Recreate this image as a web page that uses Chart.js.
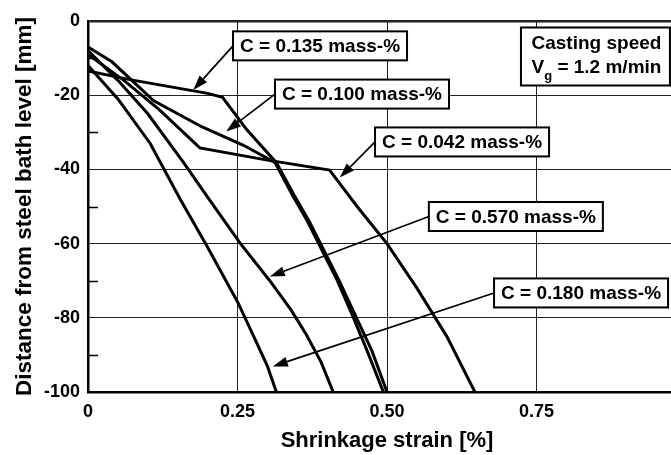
<!DOCTYPE html>
<html>
<head>
<meta charset="utf-8">
<script src="https://cdn.jsdelivr.net/npm/chart.js@4.4.0/dist/chart.umd.min.js"></script>
<style>
  html, body { margin: 0; padding: 0; background: #fff; overflow: hidden; width: 671px; height: 455px; }
</style>
</head>
<body>
<canvas id="chart" width="700" height="455"></canvas>
<script>
// values
const xTickLabels = ['0', '0.25', '0.50', '0.75', ''];
const yTickLabels = ['-100', '-80', '-60', '-40', '-20', '0'];
const yMinorTicks = [-10, -30, -50, -70, -90];

const c135X = [0, 0.07, 0.2, 0.225, 0.265, 0.315, 0.345, 0.37, 0.395, 0.42, 0.449, 0.475, 0.50];
const c135Y = [-13.5, -15.8, -19.5, -20.6, -29.2, -38.2, -47, -54, -62, -70, -80, -89, -100];

const c100X = [0, 0.04, 0.08, 0.11, 0.19, 0.26, 0.313, 0.342, 0.367, 0.392, 0.417, 0.444, 0.467, 0.494];
const c100Y = [-7, -11, -17, -21.5, -28.5, -33.5, -38.2, -47, -54, -62, -70, -80, -89, -100];

const c042X = [0, 0.06, 0.12, 0.187, 0.30, 0.404, 0.45, 0.5, 0.55, 0.6, 0.647];
const c042Y = [-9, -16, -24, -34.2, -37.5, -40.2, -50, -60, -72, -85, -100];

const c570X = [0, 0.05, 0.1, 0.159, 0.2, 0.254, 0.304, 0.34, 0.365, 0.39, 0.41];
const c570Y = [-8, -16, -25, -38, -47.5, -59.8, -70, -78, -84.5, -92, -100];

const c180X = [0, 0.05, 0.104, 0.154, 0.2, 0.251, 0.28, 0.3, 0.315];
const c180Y = [-12, -21, -33, -48, -61, -76, -86, -93, -100];

const labelTexts = ['C = 0.135 mass-%', 'C = 0.100 mass-%', 'C = 0.042 mass-%', 'C = 0.570 mass-%', 'C = 0.180 mass-%'];

// where the callouts sit (data units)
const callouts = [
  { left: 0.2425, mid: -6.7,  tipX: 0.176, tipY: -18.6 },
  { left: 0.3127, mid: -19.7, tipX: 0.231, tipY: -29.8 },
  { left: 0.480,  mid: -32.6, tipX: 0.421, tipY: -42.2 },
  { left: 0.570,  mid: -52.7, tipX: 0.304, tipY: -68.9 },
  { left: 0.679,  mid: -73.3, tipX: 0.309, tipY: -93.1 }
];
const speedBox = { left: 0.724, top: -1.75 };

const FONT = '"Liberation Sans", Arial, Helvetica, sans-serif';

function series(xs, ys) {
  return xs.map((x, i) => ({ x: x, y: ys[i] }));
}

function lineSet(xs, ys) {
  return {
    data: series(xs, ys),
    borderColor: '#000',
    borderWidth: 3,
    pointRadius: 0,
    tension: 0,
    fill: false
  };
}

function arrow(ctx, x0, y0, x1, y1) {
  const ang = Math.atan2(y1 - y0, x1 - x0);
  const len = 15, half = 5;
  const bx = x1 - len * Math.cos(ang), by = y1 - len * Math.sin(ang);
  ctx.beginPath();
  ctx.moveTo(x0, y0);
  ctx.lineTo(bx, by);
  ctx.lineWidth = 1.7;
  ctx.strokeStyle = '#000';
  ctx.stroke();
  ctx.beginPath();
  ctx.moveTo(x1, y1);
  ctx.lineTo(bx + half * Math.sin(ang), by - half * Math.cos(ang));
  ctx.lineTo(bx - half * Math.sin(ang), by + half * Math.cos(ang));
  ctx.closePath();
  ctx.fillStyle = '#000';
  ctx.fill();
}

const extras = {
  id: 'extras',
  beforeDatasetsDraw(chart) {
    const ctx = chart.ctx, y = chart.scales.y, area = chart.chartArea;
    ctx.save();
    ctx.strokeStyle = '#000';
    ctx.lineWidth = 1.5;
    yMinorTicks.forEach(v => {
      const py = Math.round(y.getPixelForValue(v)) + 0.5;
      ctx.beginPath();
      ctx.moveTo(area.left, py);
      ctx.lineTo(area.left + 10, py);
      ctx.stroke();
    });
    ctx.restore();
  },
  afterDatasetsDraw(chart) {
    const ctx = chart.ctx, xs = chart.scales.x, ys = chart.scales.y;
    ctx.save();
    ctx.font = 'bold 19px ' + FONT;
    ctx.textBaseline = 'middle';
    const boxH = 29, padX = 7;
    callouts.forEach((c, i) => {
      const bx = xs.getPixelForValue(c.left);
      const my = ys.getPixelForValue(c.mid);
      const w = ctx.measureText(labelTexts[i]).width + padX * 2;
      arrow(ctx, bx, my, xs.getPixelForValue(c.tipX), ys.getPixelForValue(c.tipY));
      ctx.fillStyle = '#fff';
      ctx.fillRect(bx, my - boxH / 2, w, boxH);
      ctx.lineWidth = 2;
      ctx.strokeStyle = '#000';
      ctx.strokeRect(bx, my - boxH / 2, w, boxH);
      ctx.fillStyle = '#000';
      ctx.fillText(labelTexts[i], bx + padX, my + 1);
    });

    // casting speed box
    const sx = xs.getPixelForValue(speedBox.left);
    const sy = ys.getPixelForValue(speedBox.top);
    const sw = 149, sh = 58;
    ctx.fillStyle = '#fff';
    ctx.fillRect(sx, sy, sw, sh);
    ctx.lineWidth = 2;
    ctx.strokeRect(sx, sy, sw, sh);
    ctx.fillStyle = '#000';
    ctx.textAlign = 'center';
    ctx.fillText('Casting speed', sx + sw / 2 + 1, sy + 16);
    const rest = ' = 1.2 m/min';
    const wV = ctx.measureText('V').width;
    const wR = ctx.measureText(rest).width;
    ctx.font = 'bold 13px ' + FONT;
    const wG = ctx.measureText('g').width;
    const total = wV + wG + wR;
    let tx = sx + sw / 2 + 1 - total / 2;
    ctx.textAlign = 'left';
    ctx.font = 'bold 19px ' + FONT;
    ctx.fillText('V', tx, sy + 40);
    ctx.font = 'bold 13px ' + FONT;
    ctx.fillText('g', tx + wV, sy + 49);
    ctx.font = 'bold 19px ' + FONT;
    ctx.fillText(rest, tx + wV + wG, sy + 40);
    ctx.restore();
  }
};

new Chart(document.getElementById('chart'), {
  type: 'line',
  data: {
    datasets: [
      lineSet(c135X, c135Y),
      lineSet(c100X, c100Y),
      lineSet(c042X, c042Y),
      lineSet(c570X, c570Y),
      lineSet(c180X, c180Y)
    ]
  },
  options: {
    responsive: false,
    animation: false,
    layout: { padding: { top: 21, right: 14, left: 0, bottom: 0 } },
    plugins: { legend: { display: false }, tooltip: { enabled: false } },
    scales: {
      x: {
        type: 'linear',
        min: 0,
        max: 1,
        afterFit: s => { s.height = 63; },
        ticks: {
          stepSize: 0.25,
          color: '#000',
          font: { family: FONT, size: 18, weight: 'bold' },
          padding: 9,
          maxRotation: 0,
          callback: (v, i) => xTickLabels[i]
        },
        grid: { color: '#222', lineWidth: 1, drawTicks: false },
        border: { display: true, color: '#000', width: 2.5 },
        title: {
          display: true,
          text: 'Shrinkage strain [%]',
          color: '#000',
          font: { family: FONT, size: 22, weight: 'bold' },
          padding: { top: 0, bottom: 1 }
        }
      },
      y: {
        type: 'linear',
        min: -100,
        max: 0,
        afterFit: s => { s.width = 88; },
        ticks: {
          stepSize: 20,
          color: '#000',
          font: { family: FONT, size: 18, weight: 'bold' },
          padding: 8,
          callback: (v, i) => yTickLabels[i]
        },
        grid: {
          color: '#222',
          lineWidth: c => (c.tick && c.tick.value === 0 ? 2.5 : 1),
          drawTicks: false
        },
        border: { display: true, color: '#000', width: 2.5 },
        title: {
          display: true,
          text: 'Distance from steel bath level [mm]',
          color: '#000',
          font: { family: FONT, size: 22.5, weight: 'bold' },
          padding: { top: 11, bottom: 0 }
        }
      }
    }
  },
  plugins: [extras]
});
</script>
</body>
</html>
